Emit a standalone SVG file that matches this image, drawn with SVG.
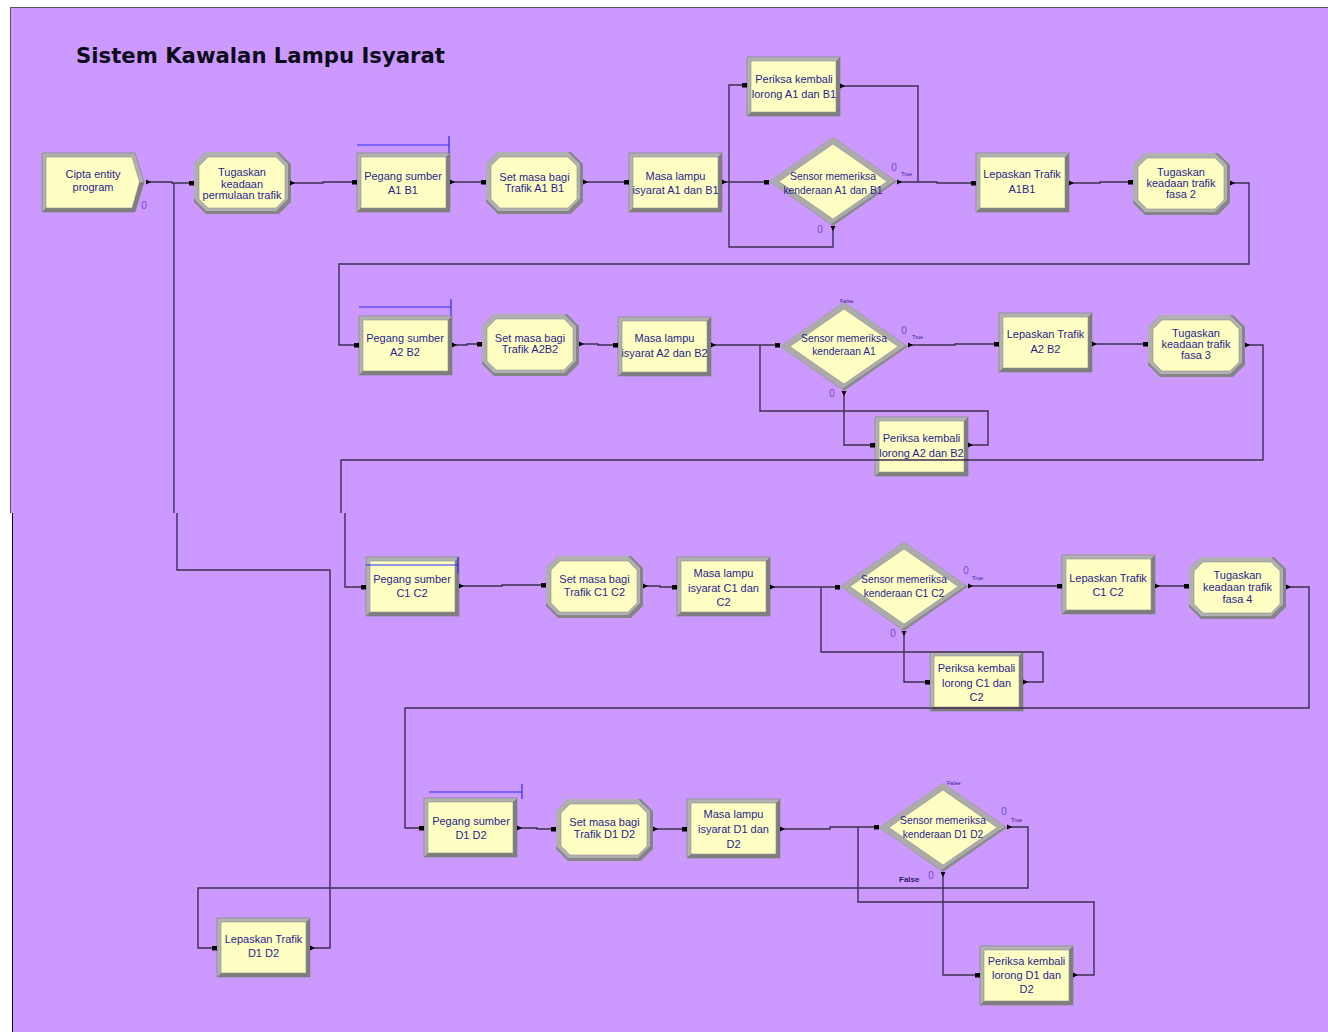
<svg xmlns="http://www.w3.org/2000/svg" xmlns:xlink="http://www.w3.org/1999/xlink" width="1328" height="1032" viewBox="0 0 1328 1032">
<style>
.t{font-family:"Liberation Sans",Arial,sans-serif;font-size:11px;fill:#281e8c;text-anchor:middle}
.td{font-size:10.3px}
.cn{fill:none;stroke:#3d2f4f;stroke-width:1.4;marker-start:url(#out);marker-end:url(#in)}
.cj{fill:none;stroke:#3d2f4f;stroke-width:1.4;marker-start:url(#out)}
.q{fill:none;stroke:#2a2aff;stroke-width:1.2}
.n0{font-family:"Liberation Sans",Arial,sans-serif;font-size:10px;fill:#6a4ad0;text-anchor:middle}
.tt{font-family:"Liberation Sans",Arial,sans-serif;font-size:5.5px;fill:#3020a0}
.fb{font-family:"Liberation Sans",Arial,sans-serif;font-size:8px;font-weight:bold;fill:#2a2060}
</style>
<defs>
<marker id="out" viewBox="0 0 6 6" refX="0" refY="3" markerWidth="6" markerHeight="6" markerUnits="userSpaceOnUse" orient="auto"><path d="M0,0.5 L5,3 L0,5.5 Z" fill="#000"/></marker>
<marker id="in" viewBox="0 0 5 5" refX="5" refY="2.5" markerWidth="5" markerHeight="5" markerUnits="userSpaceOnUse" orient="auto"><rect width="5" height="5" fill="#000"/></marker>
<g id="rectShape">
<rect width="93" height="59" fill="#b2b2b2" stroke="#8a8a8a" stroke-width="0.8"/>
<path d="M93,0 V59 H0 L4,55 H89 V4 Z" fill="#7e7e7e"/>
<rect x="4" y="4" width="85" height="51" fill="#ffffc4" stroke="#909090" stroke-width="0.6"/>
</g>
<g id="octShape">
<polygon points="12,0 85,0 97,12 97,50 85,62 12,62 0,50 0,12" fill="#858585"/>
<polygon points="12,0 82,0 94,12 94,47 82,59 12,59 0,47 0,12" fill="#b0b0b0"/>
<polygon points="14,5 82,5 91,14 91,47 82,56 14,56 5,47 5,14" fill="#ffffc4" stroke="#909090" stroke-width="0.6"/>
</g>
<g id="diaShape">
<polygon points="64,0 128,44.5 64,89 0,44.5" fill="#8a8a8a"/>
<polygon points="64,0 126,43.5 62,87 0,44.5" fill="#ababab"/>
<polygon points="64,7 118,44.5 64,82 10,44.5" fill="#ffffc4" stroke="#909090" stroke-width="0.6"/>
</g>
</defs>
<rect width="1328" height="1032" fill="#fff"/>
<rect x="10" y="7" width="1318" height="506" fill="#cc99ff"/>
<path d="M10.5,513 V7.5 H1328" fill="none" stroke="#555" stroke-width="1"/>
<rect x="12" y="513" width="1316" height="519" fill="#cc99ff"/>
<line x1="12.5" y1="513" x2="12.5" y2="1032" stroke="#000" stroke-width="1"/>
<text x="76" y="63" font-family="DejaVu Sans,Verdana,sans-serif" font-size="21" font-weight="bold" fill="#0b0b1a" textLength="369" lengthAdjust="spacingAndGlyphs">Sistem Kawalan Lampu Isyarat</text>

<g id="nodes">
<g id="cipta">
<polygon points="42,153 135,153 144,182 135,212 42,212" fill="#b0b0b0" stroke="#8a8a8a" stroke-width="0.8"/>
<polygon points="42,212 135,212 144,182 139.5,182 132,208 46,208" fill="#7e7e7e"/>
<polygon points="46,157 132,157 139.5,182 132,208 46,208" fill="#ffffc4" stroke="#909090" stroke-width="0.6"/>
<text class="t" x="93" y="178">Cipta entity</text><text class="t" x="93" y="191">program</text>
<text class="n0" x="144" y="209">0</text>
</g>
<g id="tugaskan1"><use xlink:href="#octShape" x="194" y="152"/>
<text class="t" x="242" y="176">Tugaskan</text><text class="t" x="242" y="187.5">keadaan</text><text class="t" x="242" y="199">permulaan trafik</text></g>
<g id="pegangA1"><use xlink:href="#rectShape" x="357" y="153"/>
<text class="t" x="403" y="179.5">Pegang sumber</text><text class="t" x="403" y="194">A1 B1</text>
<path class="q" d="M357,145 H449 M449,136 V153"/></g>
<g id="setA1"><use xlink:href="#octShape" x="486" y="152"/>
<text class="t" x="534.5" y="180.5">Set masa bagi</text><text class="t" x="534.5" y="191.5">Trafik A1 B1</text></g>
<g id="masaA1"><use xlink:href="#rectShape" x="629" y="153"/>
<text class="t" x="675.5" y="180">Masa lampu</text><text class="t" x="675.5" y="194">isyarat A1 dan B1</text></g>
<g id="periksaA1"><use xlink:href="#rectShape" x="747" y="57"/>
<text class="t" x="794" y="83">Periksa kembali</text><text class="t" x="794" y="98">lorong A1 dan B1</text></g>
<g id="sensorA1"><use xlink:href="#diaShape" x="769" y="137"/>
<text class="t td" x="833" y="180">Sensor memeriksa</text><text class="t td" x="833" y="194">kenderaan A1 dan B1</text>
<text class="n0" x="894" y="171">0</text><text class="tt" x="901" y="176">True</text><text class="n0" x="820" y="233">0</text></g>
<g id="lepaskanA1"><use xlink:href="#rectShape" x="976" y="153"/>
<text class="t" x="1022" y="178">Lepaskan Trafik</text><text class="t" x="1022" y="192.5">A1B1</text></g>
<g id="tugaskan2"><use xlink:href="#octShape" x="1133" y="153"/>
<text class="t" x="1181" y="176">Tugaskan</text><text class="t" x="1181" y="187">keadaan trafik</text><text class="t" x="1181" y="198">fasa 2</text></g>

<g id="pegangA2"><use xlink:href="#rectShape" x="359" y="316"/>
<text class="t" x="405" y="342">Pegang sumber</text><text class="t" x="405" y="356">A2 B2</text>
<path class="q" d="M359,307 H451 M451,299 V316"/></g>
<g id="setA2"><use xlink:href="#octShape" x="482" y="314"/>
<text class="t" x="530" y="342">Set masa bagi</text><text class="t" x="530" y="353">Trafik A2B2</text></g>
<g id="masaA2"><use xlink:href="#rectShape" x="618" y="317"/>
<text class="t" x="664.5" y="342">Masa lampu</text><text class="t" x="664.5" y="356.5">isyarat A2 dan B2</text></g>
<g id="sensorA2"><use xlink:href="#diaShape" x="780" y="302"/>
<text class="t td" x="844" y="342">Sensor memeriksa</text><text class="t td" x="844" y="355">kenderaan A1</text>
<text class="tt" x="840" y="303">False</text><text class="n0" x="904" y="334">0</text><text class="tt" x="912" y="339">True</text><text class="n0" x="832" y="397">0</text></g>
<g id="lepaskanA2"><use xlink:href="#rectShape" x="999" y="313"/>
<text class="t" x="1045.5" y="338">Lepaskan Trafik</text><text class="t" x="1045.5" y="353">A2 B2</text></g>
<g id="tugaskan3"><use xlink:href="#octShape" x="1148" y="315"/>
<text class="t" x="1196" y="337">Tugaskan</text><text class="t" x="1196" y="348">keadaan trafik</text><text class="t" x="1196" y="359">fasa 3</text></g>
<g id="periksaA2"><use xlink:href="#rectShape" x="875" y="417"/>
<text class="t" x="921.5" y="442">Periksa kembali</text><text class="t" x="921.5" y="457">lorong A2 dan B2</text></g>

<g id="pegangC"><use xlink:href="#rectShape" x="366" y="557"/>
<text class="t" x="412" y="583">Pegang sumber</text><text class="t" x="412" y="597">C1 C2</text></g>
<g id="setC"><use xlink:href="#octShape" x="546" y="556"/>
<text class="t" x="594.5" y="583">Set masa bagi</text><text class="t" x="594.5" y="596">Trafik C1 C2</text></g>
<g id="masaC"><use xlink:href="#rectShape" x="677" y="557"/>
<text class="t" x="723.5" y="577">Masa lampu</text><text class="t" x="723.5" y="592">isyarat C1 dan</text><text class="t" x="723.5" y="606">C2</text></g>
<g id="sensorC"><use xlink:href="#diaShape" x="840" y="542"/>
<text class="t td" x="904" y="583">Sensor memeriksa</text><text class="t td" x="904" y="597">kenderaan C1 C2</text>
<text class="n0" x="966" y="574">0</text><text class="tt" x="972" y="580">True</text><text class="n0" x="893" y="637">0</text></g>
<g id="lepaskanC"><use xlink:href="#rectShape" x="1062" y="555"/>
<text class="t" x="1108" y="582">Lepaskan Trafik</text><text class="t" x="1108" y="596">C1 C2</text></g>
<g id="tugaskan4"><use xlink:href="#octShape" x="1189" y="557"/>
<text class="t" x="1237.5" y="579">Tugaskan</text><text class="t" x="1237.5" y="591">keadaan trafik</text><text class="t" x="1237.5" y="603">fasa 4</text></g>
<g id="periksaC"><use xlink:href="#rectShape" x="930" y="652"/>
<text class="t" x="976.5" y="672">Periksa kembali</text><text class="t" x="976.5" y="687">lorong C1 dan</text><text class="t" x="976.5" y="701">C2</text></g>

<g id="pegangD"><use xlink:href="#rectShape" x="424" y="798"/>
<text class="t" x="471" y="825">Pegang sumber</text><text class="t" x="471" y="839">D1 D2</text>
<path class="q" d="M429,792 H522 M522,784 V799"/></g>
<g id="setD"><use xlink:href="#octShape" x="556" y="799"/>
<text class="t" x="604.5" y="826">Set masa bagi</text><text class="t" x="604.5" y="838">Trafik D1 D2</text></g>
<g id="masaD"><use xlink:href="#rectShape" x="687" y="799"/>
<text class="t" x="733.5" y="818">Masa lampu</text><text class="t" x="733.5" y="833">isyarat D1 dan</text><text class="t" x="733.5" y="848">D2</text></g>
<g id="sensorD"><use xlink:href="#diaShape" x="879" y="783"/>
<text class="t td" x="943" y="824">Sensor memeriksa</text><text class="t td" x="943" y="838">kenderaan D1 D2</text>
<text class="tt" x="947" y="785">False</text><text class="n0" x="1004" y="815">0</text><text class="tt" x="1011" y="822">True</text>
<text class="n0" x="931" y="879">0</text><text class="fb" x="899" y="882">False</text></g>
<g id="periksaD"><use xlink:href="#rectShape" x="980" y="946"/>
<text class="t" x="1026.5" y="965">Periksa kembali</text><text class="t" x="1026.5" y="979">lorong D1 dan</text><text class="t" x="1026.5" y="993">D2</text></g>
<g id="lepaskanD"><use xlink:href="#rectShape" x="217" y="918"/>
<text class="t" x="263.5" y="943">Lepaskan Trafik</text><text class="t" x="263.5" y="957">D1 D2</text></g>
</g>

<g id="connectors">
<path class="cn" d="M146,182 H172 V183 H194"/>
<path class="cn" d="M290,183 H323 V182 H357"/>
<path class="cn" d="M450,182 H486"/>
<path class="cn" d="M583,182 H629"/>
<path class="cn" d="M722,182 H769"/>
<path class="cn" d="M833,226 V247 H729 V85 H747"/>
<path class="cj" d="M840,86 H918 V182"/>
<path class="cn" d="M897,182 H937 V183 H976"/>
<path class="cn" d="M1069,183 H1100 V182 H1133"/>
<path class="cn" d="M1230,183 H1249 V264 H339 V345 H359"/>
<path class="cn" d="M452,345 H467 V344 H482"/>
<path class="cn" d="M579,344 H598 V345 H618"/>
<path class="cn" d="M711,345 H780"/>
<path class="cn" d="M844,391 V445 H875"/>
<path class="cj" d="M968,445 H988 V411 H760 V345"/>
<path class="cn" d="M908,345 H955 V344 H999"/>
<path class="cn" d="M1092,344 H1148"/>
<path class="cn" d="M1245,345 H1263 V460 H341 V513 M345,513 V587 H366"/>
<path class="q" d="M366,565 H458 M458,557 V573"/>
<path class="cn" d="M459,586 H502 V585 H546"/>
<path class="cn" d="M643,586 H660 V587 H677"/>
<path class="cn" d="M770,587 H840"/>
<path class="cn" d="M904,631 V682 H930"/>
<path class="cj" d="M1023,682 H1043 V652 H821 V587"/>
<path class="cn" d="M968,586 H1062"/>
<path class="cn" d="M1155,586 H1189"/>
<path class="cn" d="M1286,587 H1309 V708 H405 V828 H424"/>
<path class="cn" d="M517,828 H537 V829 H556"/>
<path class="cn" d="M653,829 H687"/>
<path class="cn" d="M780,829 H830 V827 H879"/>
<path class="cn" d="M943,872 V975 H980"/>
<path class="cj" d="M1073,975 H1094 V902 H858 V827"/>
<path class="cn" d="M1007,827 H1028 V888 H198 V948 H217"/>
<path class="cj" d="M310,948 H330 V570 H177 V513 M174,513 V183"/>
</g>
</svg>
